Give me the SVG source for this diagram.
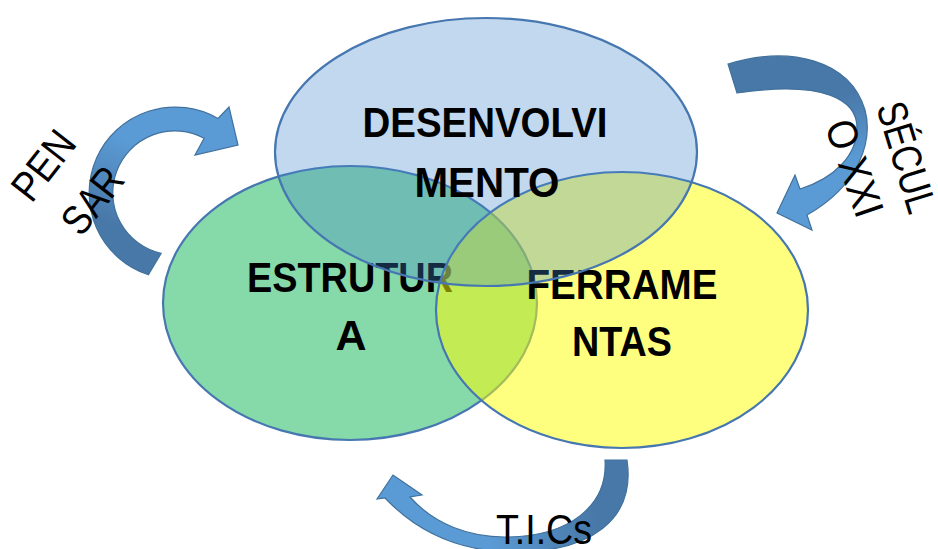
<svg xmlns="http://www.w3.org/2000/svg" width="938" height="549" viewBox="0 0 938 549">
<style>
.ell{stroke:#4677b0;stroke-width:2.2}
.bold{font-family:"Liberation Sans",Arial,sans-serif;font-weight:bold;font-size:43px;fill:#000;text-anchor:middle}
.reg{font-family:"Liberation Sans",Arial,sans-serif;font-size:42px;fill:#000;text-anchor:middle}
.arr{stroke:#41719c;stroke-width:1.2;stroke-linejoin:miter}
</style>
<defs>
<linearGradient id="g1" gradientUnits="userSpaceOnUse" x1="210" y1="110" x2="145" y2="265">
<stop offset="0.35" stop-color="#5b9bd5"/><stop offset="0.85" stop-color="#4878a8"/>
</linearGradient>
<linearGradient id="g2" gradientUnits="userSpaceOnUse" x1="760" y1="70" x2="800" y2="215">
<stop offset="0.3" stop-color="#4878a8"/><stop offset="0.75" stop-color="#5b9bd5"/>
</linearGradient>
<linearGradient id="g3" gradientUnits="userSpaceOnUse" x1="620" y1="470" x2="420" y2="500">
<stop offset="0.15" stop-color="#4878a8"/><stop offset="0.7" stop-color="#5b9bd5"/>
</linearGradient>
</defs>

<g id="estrutura">
<ellipse class="ell" cx="350" cy="303" rx="187" ry="137" fill="#0db353" fill-opacity="0.5"/>
<text class="bold" x="350" y="292" textLength="206" lengthAdjust="spacingAndGlyphs">ESTRUTUR</text>
<text class="bold" x="351" y="350">A</text>
</g>

<g id="ferramentas">
<ellipse class="ell" cx="622" cy="310" rx="186" ry="138" fill="#ffff00" fill-opacity="0.5"/>
<text class="bold" x="622" y="299" textLength="191" lengthAdjust="spacingAndGlyphs">FERRAME</text>
<text class="bold" x="622" y="356" textLength="100" lengthAdjust="spacingAndGlyphs">NTAS</text>
</g>

<g id="desenvolvimento">
<ellipse class="ell" cx="486" cy="152" rx="211" ry="134" fill="#4085ca" fill-opacity="0.32"/>
<text class="bold" x="485" y="137" textLength="245" lengthAdjust="spacingAndGlyphs">DESENVOLVI</text>
<text class="bold" x="487" y="197" textLength="145" lengthAdjust="spacingAndGlyphs">MENTO</text>
</g>

<g id="connectors">
<path id="arrow-pensar" class="arr" fill="url(#g1)" d="M148.4,274.8 A86,86 0 1 1 218,118.5 L229,107 L238,145 L195,155 L204.1,138.3 A62,62 0 1 0 161.1,253.4 Z"/>
<path id="arrow-seculo" class="arr" fill="url(#g2)" d="M728,64 C790,45 850,60 865,110 C873,140 860,185 807,215 L812,230 L777,213 L795,175 L800,189 C835,178 857,155 857,128 C857,100 825,80 737,93 Z"/>
<path id="arrow-tics" class="arr" fill="url(#g3)" d="M627,460 C636,520 590,552 515,552 C465,552 420,535 385,498 L377,499 L393,475 L422,495 L410,497 C435,525 470,537 505,537 C570,537 608,505 605,460 Z"/>
</g>

<g id="label-pensar">
<g transform="translate(43,165) rotate(-52)"><text class="reg" x="0" y="15" textLength="76" lengthAdjust="spacingAndGlyphs">PEN</text></g>
<g transform="translate(92,200) rotate(-52)"><text class="reg" x="0" y="15" textLength="73" lengthAdjust="spacingAndGlyphs">SAR</text></g>
</g>

<g id="label-seculo">
<g transform="translate(907,157) rotate(73)"><text class="reg" x="0" y="15" textLength="114" lengthAdjust="spacingAndGlyphs">SÉCUL</text></g>
<g transform="translate(855,168) rotate(71)"><text class="reg" x="0" y="15" textLength="100" lengthAdjust="spacingAndGlyphs">O XXI</text></g>
</g>

<g id="label-tics">
<text class="reg" x="544" y="544" font-size="42" textLength="96" lengthAdjust="spacingAndGlyphs">T.I.Cs</text>
</g>
</svg>
